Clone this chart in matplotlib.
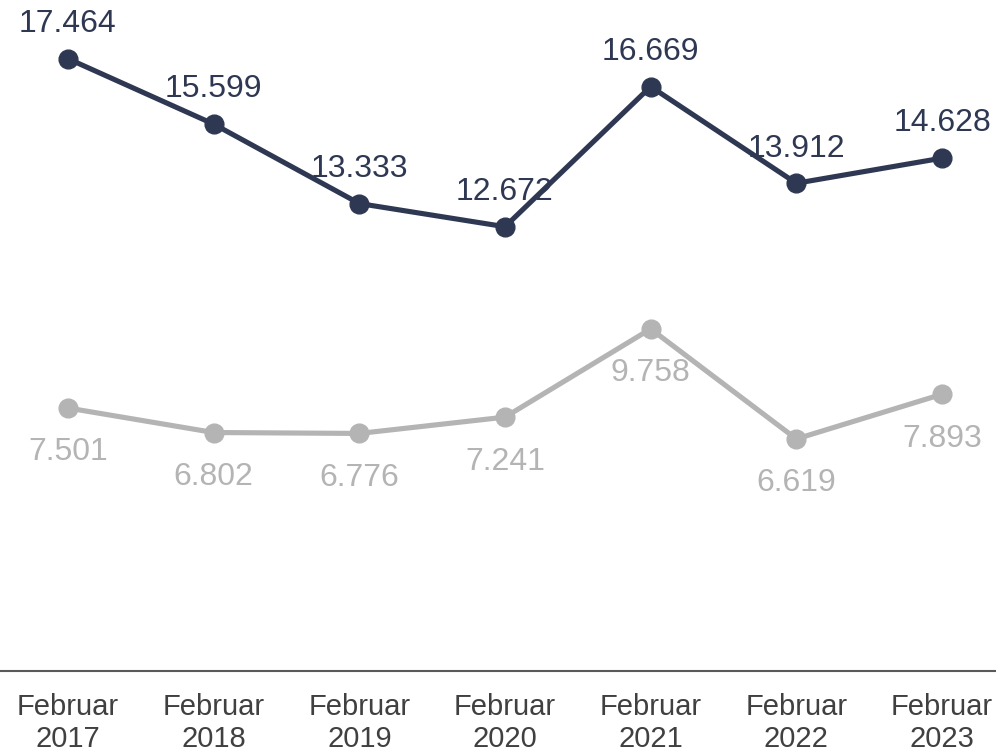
import matplotlib
matplotlib.use("Agg")
import matplotlib.pyplot as plt

categories = ["Februar\n2017", "Februar\n2018", "Februar\n2019", "Februar\n2020",
              "Februar\n2021", "Februar\n2022", "Februar\n2023"]
series_dark = [17.464, 15.599, 13.333, 12.672, 16.669, 13.912, 14.628]
series_grey = [7.501, 6.802, 6.776, 7.241, 9.758, 6.619, 7.893]
dark_labels = ["17.464", "15.599", "13.333", "12.672", "16.669", "13.912", "14.628"]
grey_labels = ["7.501", "6.802", "6.776", "7.241", "9.758", "6.619", "7.893"]

DARK = "#2f3852"
GREY = "#b4b4b4"
TXT = "#404040"

plt.rcParams['font.family'] = ['Liberation Sans', 'DejaVu Sans']

fig = plt.figure(figsize=(9.96, 7.53), dpi=100)
ax = fig.add_axes([0, 82/753, 1, 671/753])
x = list(range(len(categories)))

ax.plot(x, series_dark, color=DARK, lw=3.7, marker='o', ms=13.5, solid_capstyle='round', zorder=3)
ax.plot(x, series_grey, color=GREY, lw=3.7, marker='o', ms=13.5, solid_capstyle='round', zorder=3)

for xi, v, s in zip(x, series_dark, dark_labels):
    ax.annotate(s, (xi, v), xytext=(0, 25), textcoords='offset points',
                ha='center', va='center', fontsize=23, color=DARK, zorder=4)
for xi, v, s in zip(x, series_grey, grey_labels):
    ax.annotate(s, (xi, v), xytext=(0, -32), textcoords='offset points',
                ha='center', va='center', fontsize=23, color=GREY, zorder=4)

ax.set_xlim(-68/145.67, 6 + 54/145.67)
ax.set_ylim(0, 671/35.06)
ax.set_xticks(x)
ax.set_xticklabels(categories, fontsize=21, color=TXT, linespacing=1.18)
ax.tick_params(axis='x', length=0, pad=16)
ax.set_yticks([])
for sp in ['top', 'right', 'left']:
    ax.spines[sp].set_visible(False)
ax.spines['bottom'].set_color('#595959')
ax.spines['bottom'].set_linewidth(1.5)
ax.patch.set_alpha(0)

fig.savefig("out.png", dpi=100)
